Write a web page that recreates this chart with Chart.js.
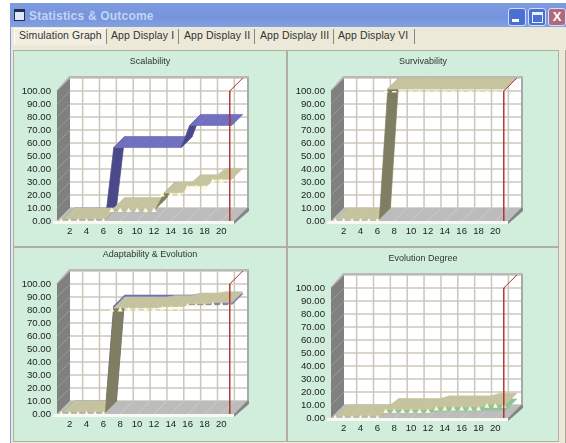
<!DOCTYPE html>
<html>
<head>
<meta charset="utf-8">
<title>Statistics & Outcome</title>
<script src="https://cdn.jsdelivr.net/npm/chart.js@4"></script>
<style>
html, body { margin: 0; padding: 0; background: #fff; }
body { width: 566px; height: 443px; position: relative; overflow: hidden; font-family: "Liberation Sans", Arial, sans-serif; }
#win { position: absolute; left: 10px; top: 3px; width: 556px; height: 440px; background: #ece9d8; border-left: 1px solid #7f9be0; box-sizing: border-box; }
#bar { position: absolute; left: -1px; top: 0; width: 556px; height: 24px; background: linear-gradient(#7f9ce0, #7594dc 60%, #83a0e2); }
#bar .cap { position: absolute; left: 19px; top: 6px; color: #c4d3f3; font: bold 12px "Liberation Sans", Arial, sans-serif; letter-spacing: .2px; }
#bar .ico { position: absolute; left: 4px; top: 6px; width: 9px; height: 8px; background: #dfe8f8; border: 1px solid #26304c; border-top-width: 3px; }
.btn { position: absolute; top: 5px; width: 16px; height: 16px; border: 1px solid #d4def6; border-radius: 3px; background: #4a70d4; box-sizing: content-box; }
.btn.close { background: #b06a80; }
.btn i { position: absolute; display: block; box-sizing: border-box; }
.tab { position: absolute; top: 28px; font-size: 10.5px; color: #333; height: 17px; line-height: 15px; white-space: nowrap; letter-spacing: .1px; }
.tab.on { background: #f2efe2; border-top: 1px solid #fff; border-left: 1px solid #fff; line-height: 13px; }
.sep { position: absolute; top: 29px; width: 1px; height: 15px; background: #8a8678; }
.panel { position: absolute; background: #d0eedb; box-sizing: border-box; border: 1px solid #b2afa0; }
.panel canvas { position: absolute; left: 0; top: 0; }
</style>
</head>
<body>
<div id="win">
  <div id="bar">
    <div class="ico"></div>
    <div class="cap">Statistics &amp; Outcome</div>
    <div class="btn" style="left:498px"><i style="left:3px;top:10px;width:7px;height:3px;background:#fff"></i></div>
    <div class="btn" style="left:518px"><i style="left:3px;top:3px;width:11px;height:11px;border:1px solid #e8eefb;border-top-width:3px"></i></div>
    <div class="btn close" style="left:538px"><i style="left:0;top:-2px;width:16px;height:18px;color:#fff;font:bold 13px/19px 'Liberation Sans';text-align:center">X</i></div>
  </div>
</div>
<div class="tab on" style="left:14px;width:92px;padding-left:4px;box-sizing:border-box">Simulation Graph</div>
<div class="sep" style="left:106px"></div>
<div class="tab" style="left:111px">App Display I</div>
<div class="sep" style="left:178px"></div>
<div class="tab" style="left:184px">App Display II</div>
<div class="sep" style="left:254px"></div>
<div class="tab" style="left:260px">App Display III</div>
<div class="sep" style="left:333px"></div>
<div class="tab" style="left:338px">App Display VI</div>
<div class="sep" style="left:414px"></div>
<div style="position:absolute;left:565px;top:50px;width:1px;height:393px;background:#a8a596"></div>

<div class="panel" style="left:13px;top:50px;width:274px;height:197px"><canvas id="c1"></canvas></div>
<div class="panel" style="left:287px;top:50px;width:272px;height:197px"><canvas id="c2"></canvas></div>
<div class="panel" style="left:13px;top:247px;width:274px;height:195px"><canvas id="c3"></canvas></div>
<div class="panel" style="left:287px;top:247px;width:272px;height:195px"><canvas id="c4"></canvas></div>

<script>
const categories = ["1","2","3","4","5","6","7","8","9","10","11","12","13","14","15","16","17","18","19","20","21"];
const yTicks = [0,10,20,30,40,50,60,70,80,90,100];

const scalabilityBlue  = [0,0,0,0,0,0,55,55,55,55,55,55,55,55,55,72,72,72,72,72,72];
const scalabilityKhaki = [0,0,0,0,0,0,8,8,8,8,8,8,20,20,20,25.5,25.5,25.5,30.5,30.5,30.5];
const survivabilityKhaki = [0,0,0,0,0,0,100,100,100,100,100,100,100,100,100,100,100,100,100,100,100];
const adaptabilityBlue  = [0,0,0,0,0,0,81.5,81.5,81.5,81.5,81.5,81.5,81.5,81.5,81.5,82.5,82.5,82.5,82.5,82.5,82.5];
const adaptabilityKhaki = [0,0,0,0,0,0,80,80,80,80,80,80,81,81,81,83,83,83,84,84,84];
const evolutionGreen = [0,0,0,0,0,0,3,3,3,3,3,3,4,4,4,4,4,4,4.6,4.6,4.6];
const evolutionKhaki = [0,0,0,0,0,0,5,5,5,5,5,5,7,7,7,7,7,7,9,9,9];

const DEPTH = 13;
const RIBBON_INSET = 2;
const FONT = { family: "'Liberation Sans', Arial, sans-serif", size: 9.6 };

function fillQuad(ctx, pts, color, seal) {
    ctx.fillStyle = color;
    ctx.beginPath();
    ctx.moveTo(pts[0][0], pts[0][1]);
    for (let i = 1; i < pts.length; i++) ctx.lineTo(pts[i][0], pts[i][1]);
    ctx.closePath();
    ctx.fill();
    if (seal) {
        // hairline in the same colour closes the seams between neighbours
        ctx.strokeStyle = color;
        ctx.lineWidth = 0.7;
        ctx.stroke();
    }
}

function strokeLine(ctx, x1, y1, x2, y2, color, width) {
    ctx.strokeStyle = color;
    ctx.lineWidth = width;
    ctx.beginPath();
    ctx.moveTo(x1, y1);
    ctx.lineTo(x2, y2);
    ctx.stroke();
}

/* Box walls, floor and grid behind the series */
function drawBox(chart) {
    const ctx = chart.ctx, a = chart.chartArea, d = DEPTH;
    const xs = chart.scales.x, ys = chart.scales.y;
    const L = a.left, R = a.right, T = a.top, B = a.bottom;

    fillQuad(ctx, [[L+d,T-d],[R+d,T-d],[R+d,B-d],[L+d,B-d]], "#ffffff");

    yTicks.forEach(v => {
        const y = ys.getPixelForValue(v) - d;
        strokeLine(ctx, L+d, y, R+d, y, "#cbc7b9", 1.5);
    });
    categories.forEach((c, i) => {
        if (i % 2 == 0) return;
        const x = xs.getPixelForValue(i) + d;
        strokeLine(ctx, x, T-d, x, B-d, "#cbc7b9", 1.5);
    });

    // rim along the top and right of the back wall
    fillQuad(ctx, [[L-1,T],[L+d-1,T-d-2],[R+d+2,T-d-2],[R+d+2,T-d],[L+d,T-d],[L,T]], "#b9b9b9");
    fillQuad(ctx, [[R+d,T-d],[R+d+2,T-d],[R+d+2,B-d],[R+d,B-d]], "#a8a8a8");

    // left wall
    fillQuad(ctx, [[L,T],[L+d,T-d],[L+d,B-d],[L,B]], "#808080");
    yTicks.forEach(v => {
        const y = ys.getPixelForValue(v);
        strokeLine(ctx, L, y, L+d, y-d, "#a3a296", 0.8);
    });

    // floor with its front lip
    fillQuad(ctx, [[L,B],[R,B],[R+d,B-d],[L+d,B-d]], "#bcbcbc");
    categories.forEach((c, i) => {
        if (i % 2 == 0) return;
        const x = xs.getPixelForValue(i);
        strokeLine(ctx, x, B, x+d, B-d, "#d2d1c6", 0.8);
    });
    fillQuad(ctx, [[L-4,B],[R,B],[R,B+3],[L-4,B+3]], "#f8f8f4");
    fillQuad(ctx, [[R,B],[R+d,B-d],[R+d+2,B-d],[R+d+2,B-d+3],[R,B+3]], "#858585");
}

/* Each dataset is a flat band running back from its line; the band starts
   a little behind the points so the triangles stay visible */
function drawRibbon(chart, dsIndex) {
    const ctx = chart.ctx, d = DEPTH, f = RIBBON_INSET;
    const ds = chart.data.datasets[dsIndex];
    const pts = chart.getDatasetMeta(dsIndex).data;
    for (let i = 0; i < pts.length - 1; i++) {
        const p = pts[i], q = pts[i+1];
        const steep = q.y < p.y - 12;
        const color = steep ? ds.rampColor : ds.ribbonColor;
        fillQuad(ctx, [[p.x+f,p.y-f],[q.x+f,q.y-f],[q.x+d,q.y-d],[p.x+d,p.y-d]], color, true);
    }
}

const box3d = {
    id: "box3d",
    afterLayout(chart) {
        // keep the heading centred on the whole canvas, not the padded area
        chart.titleBlock.left = 0;
        chart.titleBlock.right = chart.width;
    },
    beforeDatasetsDraw(chart) {
        drawBox(chart);
        chart.data.datasets.forEach((ds, i) => drawRibbon(chart, i));
    },
    afterDatasetsDraw(chart) {
        // red marker on the last category
        const a = chart.chartArea;
        const x = chart.scales.x.getPixelForValue(categories.length - 1);
        const ctx = chart.ctx;
        strokeLine(ctx, x, a.top, x, a.bottom, "#b02a2a", 1.4);
        strokeLine(ctx, x, a.top, x + DEPTH, a.top - DEPTH, "#b02a2a", 1);
    }
};

function series(data, ribbonColor, rampColor, marks) {
    return {
        data, ribbonColor, rampColor,
        showLine: false,
        pointStyle: "triangle",
        pointRadius: marks ? 3 : 0,
        pointBackgroundColor: "#fefbc8",
        pointBorderWidth: 0
    };
}

const blue = (d) => series(d, "#7070bf", "#4a4a8a", false);
const khaki = (d) => series(d, "#c6c49f", "#7f7e62", true);
const green = (d) => series(d, "#8ec49c", "#6e9a7c", false);

function makeChart(id, title, datasets, w, h, plotLeft, plotTop, titleTop) {
    const yW = 42, xH = 20, lineH = 12;
    new Chart(document.getElementById(id), {
        type: "line",
        data: { labels: categories, datasets },
        options: {
            responsive: false,
            animation: false,
            devicePixelRatio: 1,
            layout: {
                padding: {
                    left: plotLeft - yW,
                    top: 0,
                    right: w - plotLeft - 177,
                    bottom: h - plotTop - 130 - xH
                }
            },
            plugins: {
                legend: { display: false },
                tooltip: { enabled: false },
                title: {
                    display: true,
                    text: title,
                    color: "#333",
                    font: { ...FONT, size: 9, lineHeight: lineH / 9, weight: "normal" },
                    padding: { top: titleTop, bottom: plotTop - titleTop - lineH }
                }
            },
            scales: {
                x: {
                    offset: true,
                    grid: { display: false, drawTicks: false },
                    border: { display: false },
                    afterFit(s) { s.height = xH; },
                    ticks: {
                        autoSkip: false,
                        maxRotation: 0,
                        minRotation: 0,
                        padding: 5,
                        color: "#222",
                        font: FONT,
                        callback: (v, i) => (i % 2 == 1 ? categories[i] : "")
                    }
                },
                y: {
                    min: 0,
                    max: 100,
                    grid: { display: false, drawTicks: false },
                    border: { display: false },
                    afterFit(s) { s.width = yW; },
                    ticks: {
                        autoSkip: false,
                        stepSize: 10,
                        padding: 6,
                        color: "#222",
                        font: FONT,
                        callback: (v) => v.toFixed(2)
                    }
                }
            }
        },
        plugins: [box3d]
    });
}

function sizeCanvas(id, w, h) {
    const c = document.getElementById(id);
    c.width = w;
    c.height = h;
    c.style.width = w + "px";
    c.style.height = h + "px";
}

sizeCanvas("c1", 272, 195);
sizeCanvas("c2", 270, 195);
sizeCanvas("c3", 272, 193);
sizeCanvas("c4", 270, 193);

makeChart("c1", "Scalability", [blue(scalabilityBlue), khaki(scalabilityKhaki)], 272, 195, 43, 40, 5);
makeChart("c2", "Survivability", [khaki(survivabilityKhaki)], 270, 195, 43, 40, 5);
makeChart("c3", "Adaptability & Evolution", [blue(adaptabilityBlue), khaki(adaptabilityKhaki)], 272, 193, 43, 36, 1);
makeChart("c4", "Evolution Degree", [green(evolutionGreen), khaki(evolutionKhaki)], 270, 193, 43, 40, 5);
</script>
</body>
</html>
